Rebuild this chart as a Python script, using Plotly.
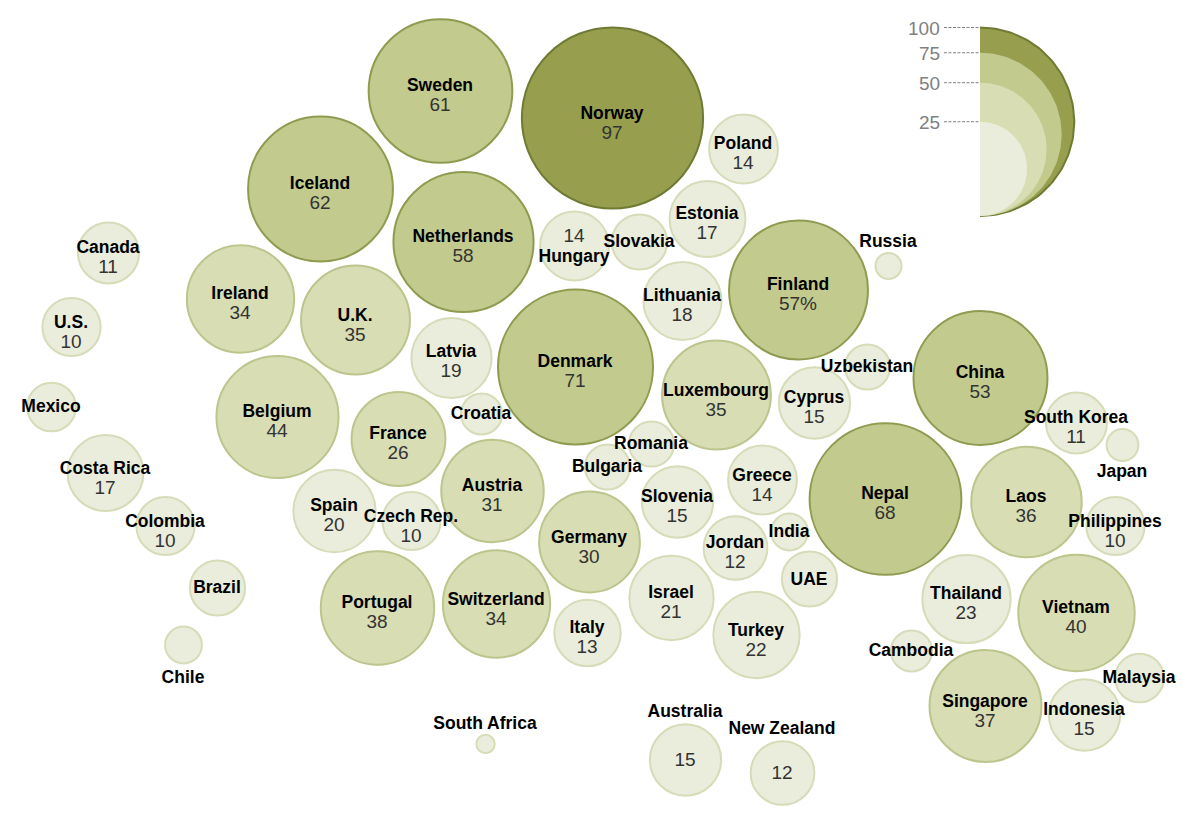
import numpy as np
import plotly.graph_objects as go

countries = ["Norway","Sweden","Iceland","Netherlands","Poland","Estonia","Hungary","Slovakia","Lithuania","Finland","Russia","Canada","Ireland","U.K.","U.S.","Latvia","Denmark","Luxembourg","Cyprus","Uzbekistan","China","Mexico","Belgium","France","Croatia","Romania","Bulgaria","South Korea","Japan","Costa Rica","Greece","Slovenia","Austria","Nepal","Laos","Spain","Czech Rep.","Colombia","Germany","Philippines","Jordan","India","UAE","Thailand","Brazil","Portugal","Switzerland","Israel","Italy","Turkey","Vietnam","Chile","Cambodia","Singapore","Malaysia","Indonesia","South Africa","Australia","New Zealand"]
values = [97,61,62,58,14,17,14,9,18,57,2,11,34,35,10,19,71,35,15,6,53,7,44,26,5,6,6,11,3,17,14,15,31,68,36,20,10,10,30,10,12,4,9,23,9,38,34,21,13,22,40,4,5,37,7,15,1,15,12]
value_labels = ["97","61","62","58","14","17","14","","18","57%","","11","34","35","10","19","71","35","15","","53","","44","26","","","","11","","17","14","15","31","68","36","20","10","10","30","10","12","","","23","","38","34","21","13","22","40","","","37","","15","","15","12"]
center_x = [612,440,320,463,743,707,574,639,682,798,888,108,240,355,71,451,575,716,814,867,980,51,277,398,481,651,607,1076,1122,105,762,677,492,885,1026,334,411,165,589,1115,735,789,809,966,217,377,496,671,587,756,1076,183,911,985,1139,1084,485,685,782]
center_y = [118,91,189,242,149,219,246,242,301,290,266,253,299,320,327,358,367,395,403,367,378,407,417,439,414,444,467,423,445,473,480,502,491,499,502,511,521,526,542,526,548,532,579,599,588,608,604,598,633,635,613,645,651,706,678,715,744,760,773]
name_x = [612,440,320,463,743,707,574,639,682,798,888,108,240,355,71,451,575,716,814,867,980,51,277,398,481,651,607,1076,1122,105,762,677,492,885,1026,334,411,165,589,1115,735,789,809,966,217,377,496,671,587,756,1076,183,911,985,1139,1084,485,685,782]
name_y = [115,87,185,238,145,215,258,243,297,286,243,249,295,317,324,353,363,392,399,368,374,408,413,435,415,445,468,419,473,470,477,498,487,495,498,507,518,523,539,523,544,533,581,595,589,604,601,594,629,632,609,679,652,703,679,711,725,713,730]
value_y = [134,106,204,257,164,234,237,0,316,305,0,268,314,336,343,372,382,411,418,0,393,0,432,454,0,0,0,438,0,489,496,517,506,514,517,526,537,542,558,542,563,0,0,614,0,623,620,613,648,651,628,0,0,722,0,730,0,761,774]

legend_values = [100, 75, 50, 25]
legend_labels = ["100", "75", "50", "25"]

FILLS = ["#eaeddc", "#d8ddb4", "#c2ca8e", "#979f4e"]
LINES = ["#d6dcb8", "#bcc58c", "#8f9c50", "#6f7a33"]


def bin_of(v):
    return 0 if v <= 25 else 1 if v <= 50 else 2 if v <= 75 else 3


fig = go.Figure()

fig.add_trace(go.Scatter(
    x=[x + 0.5 for x in center_x], y=center_y, mode="markers", hoverinfo="skip",
    marker=dict(size=values, sizemode="area", sizeref=2 / 18.4 ** 2,
                color=[FILLS[bin_of(v)] for v in values],
                opacity=1,
                line=dict(width=2, color=[LINES[bin_of(v)] for v in values])),
))

fig.add_trace(go.Scatter(
    x=name_x, y=[y - 0.5 for y in name_y], mode="text", text=countries, hoverinfo="skip",
    textposition="middle center",
    textfont=dict(family="Liberation Sans", size=17.5, color="#000000", weight="bold"),
))

val_x = [x for x, t in zip(name_x, value_labels) if t]
val_y = [y for y, t in zip(value_y, value_labels) if t]
val_t = [t for t in value_labels if t]
fig.add_trace(go.Scatter(
    x=val_x, y=val_y, mode="text", text=val_t, hoverinfo="skip",
    textposition="middle center",
    textfont=dict(family="Liberation Sans", size=19, color="#333333"),
))

# size legend: half circles sharing a bottom edge
LEG_X, LEG_BOTTOM, LEG_K = 980, 216, 18.85
theta = np.linspace(-np.pi / 2, np.pi / 2, 90)
for i, v in enumerate(legend_values):
    r = LEG_K * np.sqrt(v) / 2
    cy = LEG_BOTTOM - r
    b = bin_of(v - 1)
    fig.add_trace(go.Scatter(
        x=LEG_X + r * np.cos(theta), y=cy + r * np.sin(theta), mode="lines",
        fill="toself", fillcolor=FILLS[b], hoverinfo="skip",
        line=dict(width=2 if i == 0 else 0, color=LINES[3]),
    ))
    top = LEG_BOTTOM - 2 * r
    fig.add_shape(type="line", x0=944, x1=LEG_X, y0=top, y1=top,
                  line=dict(color="#808080", width=1, dash="3px,1.5px"))
    fig.add_annotation(x=942, y=top + 1, text=legend_labels[i], showarrow=False,
                       xanchor="right", yanchor="middle",
                       font=dict(family="Liberation Sans", size=19, color="#808080"))

fig.update_layout(
    width=1200, height=822, margin=dict(l=0, r=0, t=0, b=0),
    paper_bgcolor="white", plot_bgcolor="white", showlegend=False,
    xaxis=dict(range=[0, 1200], visible=False, fixedrange=True),
    yaxis=dict(range=[822, 0], visible=False, fixedrange=True),
)
fig.write_html("out.html", post_script="document.body.style.margin='0';",
               config={"displayModeBar": False})
